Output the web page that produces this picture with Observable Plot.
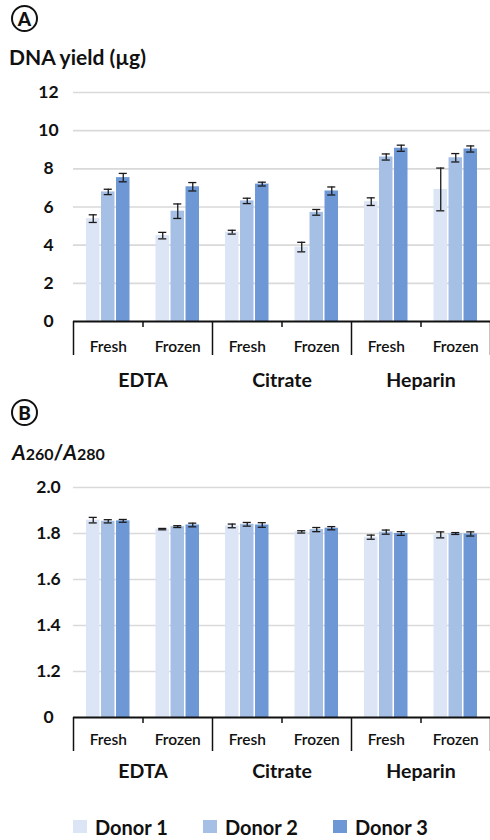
<!DOCTYPE html>
<html>
<head>
<meta charset="utf-8">
<script src="https://cdn.jsdelivr.net/npm/d3@7"></script>
<script src="https://cdn.jsdelivr.net/npm/@observablehq/plot@0.6"></script>
<style>
  html, body { margin: 0; padding: 0; background: #fff; }
  #page { position: relative; width: 490px; height: 840px; overflow: hidden; font-family: Lato, "Open Sans", sans-serif; color: #111; }
  .abs { position: absolute; }
  .badge { width: 23px; height: 23px; border: 2px solid #111; border-radius: 50%; text-align: center; font-weight: 900; font-size: 19px; line-height: 23px; }
  .title { font-weight: 700; font-size: 21px; white-space: nowrap; }
  .title .sub { font-size: 16px; font-style: normal; }
  .title i { font-style: italic; }
  .leg { font-weight: 700; font-size: 20px; white-space: nowrap; line-height: 20px; }
  .sw { width: 14px; height: 13px; }
</style>
</head>
<body>
<div id="page">
  <div class="abs badge" style="left:11px; top:5px;">A</div>
  <div class="abs title" style="left:9px; top:44px;">DNA yield (µg)</div>
  <div id="chartA" class="abs" style="left:0; top:75px;"></div>
  <div class="abs badge" style="left:11px; top:399px;">B</div>
  <div class="abs title" style="left:12px; top:439px;"><i>A</i><span class="sub">260</span>/<i>A</i><span class="sub">280</span></div>
  <div id="chartB" class="abs" style="left:0; top:470px;"></div>
  <div id="legend"></div>
</div>
<script>
// ---- data ----
const groups = ["EDTA", "Citrate", "Heparin"];
const conditions = ["Fresh", "Frozen"];
const donors = ["Donor 1", "Donor 2", "Donor 3"];
const donorColors = ["#dce5f5", "#a6bfe4", "#6e98d5"];

// order: EDTA Fresh, EDTA Frozen, Citrate Fresh, Citrate Frozen, Heparin Fresh, Heparin Frozen
const yieldD1 = [5.39, 4.50, 4.68, 3.90, 6.28, 6.92];
const yieldD2 = [6.79, 5.78, 6.32, 5.72, 8.62, 8.58];
const yieldD3 = [7.54, 7.06, 7.20, 6.84, 9.08, 9.04];
const yieldErrD1 = [0.20, 0.17, 0.10, 0.25, 0.20, 1.12];
const yieldErrD2 = [0.14, 0.38, 0.14, 0.15, 0.16, 0.22];
const yieldErrD3 = [0.22, 0.22, 0.10, 0.21, 0.16, 0.16];

const ratioD1 = [1.858, 1.819, 1.833, 1.807, 1.784, 1.794];
const ratioD2 = [1.853, 1.830, 1.840, 1.817, 1.806, 1.800];
const ratioD3 = [1.855, 1.837, 1.837, 1.823, 1.800, 1.798];
const ratioErrD1 = [0.012, 0.003, 0.008, 0.005, 0.009, 0.013];
const ratioErrD2 = [0.007, 0.004, 0.008, 0.009, 0.009, 0.004];
const ratioErrD3 = [0.006, 0.008, 0.010, 0.007, 0.008, 0.009];

const yieldTicks = [0, 2, 4, 6, 8, 10, 12];
const ratioTicks = [1.0, 1.2, 1.4, 1.6, 1.8, 2.0];
const ratioTickLabels = ["0", "1.2", "1.4", "1.6", "1.8", "2.0"];

// ---- helpers ----
const FONT = "Lato, 'Open Sans', sans-serif";
const slots = [];
groups.forEach((g, gi) => conditions.forEach((c, ci) => slots.push({group: g, condition: c, gi, ci, s: gi * 2 + ci})));

function rowsFrom(means, errs) {
  const rows = [];
  slots.forEach(sl => donors.forEach((dn, di) => {
    rows.push({...sl, donor: dn, di, value: means[di][sl.s], err: errs[di][sl.s]});
  }));
  return rows;
}
const BAR_OFF = 0.216, BAR_HALF = 0.097, CAP_HALF = 0.058;
const cx = d => d.s + 0.5 + (d.di - 1) * BAR_OFF;

function panel({rows, base, top, ticks, tickLabels, height, marginBottom, subDy, groupDy}) {
  const caps = rows.flatMap(d => [{...d, cy: d.value - d.err}, {...d, cy: d.value + d.err}]);
  return Plot.plot({
    width: 490,
    height,
    marginLeft: 73,
    marginRight: 0,
    marginTop: 17,
    marginBottom,
    style: {fontFamily: FONT, color: "#111", background: "transparent", overflow: "visible"},
    x: {type: "linear", domain: [0, 6], axis: null},
    y: {domain: [base, top], axis: null},
    color: {domain: donors, range: donorColors},
    marks: [
      Plot.ruleY(ticks.filter(t => t !== base), {stroke: "#d9d9d9", strokeWidth: 1.6}),
      Plot.rectY(rows, {x1: d => cx(d) - BAR_HALF, x2: d => cx(d) + BAR_HALF, y1: base, y2: "value", fill: "donor"}),
      Plot.ruleX(rows, {x: cx, y1: d => d.value - d.err, y2: d => d.value + d.err, stroke: "#1a1a1a", strokeWidth: 1.3}),
      Plot.ruleY(caps, {y: "cy", x1: d => cx(d) - CAP_HALF, x2: d => cx(d) + CAP_HALF, stroke: "#1a1a1a", strokeWidth: 1.3}),
      Plot.ruleY([base], {stroke: "#111", strokeWidth: 2}),
      Plot.axisX({ticks: [0, 2, 4, 6], tickSize: 34, tickFormat: () => "", stroke: "#111", strokeWidth: 1.5}),
      Plot.axisX({ticks: [1, 3, 5], tickSize: 6, tickFormat: () => "", stroke: "#111", strokeWidth: 1.5}),
      Plot.text(ticks, {y: d => d, text: (d, i) => tickLabels[i], frameAnchor: "left", dx: -25, textAnchor: "middle", fontSize: 17.5, fontWeight: 700}),
      Plot.text(slots, {x: d => d.s + 0.5, text: "condition", frameAnchor: "bottom", dy: subDy, fontSize: 15.5, fontWeight: 600}),
      Plot.text(groups, {x: (d, i) => i * 2 + 1, text: d => d, frameAnchor: "bottom", dy: groupDy, fontSize: 19.5, fontWeight: 700})
    ]
  });
}

document.getElementById("chartA").append(panel({
  rows: rowsFrom([yieldD1, yieldD2, yieldD3], [yieldErrD1, yieldErrD2, yieldErrD3]),
  base: 0, top: 12, ticks: yieldTicks, tickLabels: yieldTicks.map(String),
  height: 321, marginBottom: 75, subDy: 30, groupDy: 65
}));

document.getElementById("chartB").append(panel({
  rows: rowsFrom([ratioD1, ratioD2, ratioD3], [ratioErrD1, ratioErrD2, ratioErrD3]),
  base: 1.0, top: 2.0, ticks: ratioTicks, tickLabels: ratioTickLabels,
  height: 317, marginBottom: 70, subDy: 27, groupDy: 60
}));

// legend
const legendX = [73, 203, 333];
const legend = document.getElementById("legend");
donors.forEach((dn, i) => {
  const sw = document.createElement("div");
  sw.className = "abs sw";
  sw.style.left = legendX[i] + "px"; sw.style.top = "820px"; sw.style.background = donorColors[i];
  legend.append(sw);
  const t = document.createElement("div");
  t.className = "abs leg";
  t.style.left = (legendX[i] + 22) + "px"; t.style.top = "817px";
  t.textContent = dn;
  legend.append(t);
});
</script>
</body>
</html>
